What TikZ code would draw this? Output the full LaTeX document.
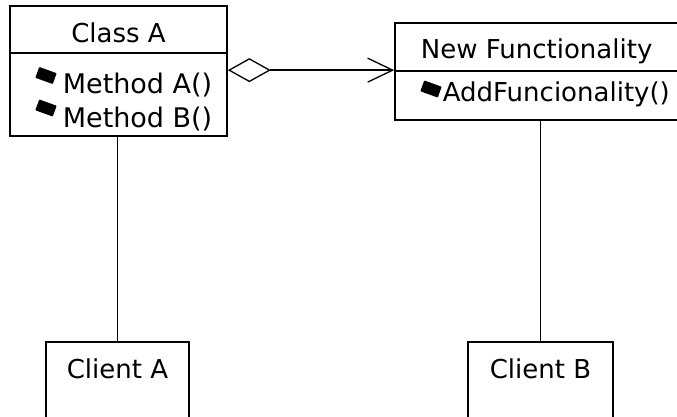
\documentclass[tikz,border=0pt]{standalone}
\usepackage{fontspec}
\setmainfont{DejaVu Sans}
\usetikzlibrary{arrows.meta}
\begin{document}
\begin{tikzpicture}[x=1pt,y=-1pt,line width=1.7pt,
  box/.style={draw,rectangle,inner sep=0pt},
  lbl/.style={inner sep=0pt,font=\fontsize{26}{30}\selectfont},
  mlbl/.style={inner sep=0pt,font=\fontsize{27}{31}\selectfont},
  mbullet/.pic={\filldraw[line width=1.5pt,line join=round]
      (6.3,7.6) -- (9.7,-1.8) -- (-6.3,-7.6) -- (-9.7,1.8) -- cycle;},
  aggr/.style={{Diamond[open,length=43pt,width=24pt]}-{Straight Barb[length=25pt,width=24pt]}}
]
\useasboundingbox (0,0) rectangle (677,417);
\fill[white] (0,0) rectangle (677,417);

% Class A: name and operations compartments
\node[box,minimum width=217pt,minimum height=47pt] (cahead) at (118.5,29.5) {};
\node[box,minimum width=217pt,minimum height=83pt] (cabody) at (118.5,94.5) {};
\node[lbl,anchor=base] (catitle) at (118.5,43) {Class A};
\pic at (46,75.5) {mbullet};
\node[mlbl,anchor=base west] (cam1) at (62,94) {Method A()};
\pic at (46,108) {mbullet};
\node[mlbl,anchor=base west] (cam2) at (62,128) {Method B()};

% New Functionality: name and operations compartments
\node[box,minimum width=295pt,minimum height=48pt] (nfhead) at (542.5,47) {};
\node[box,minimum width=295pt,minimum height=49pt] (nfbody) at (542.5,95.5) {};
\node[lbl,anchor=base west] (nftitle) at (420,59) {New Functionality};
\pic at (431,89) {mbullet};
\node[lbl,anchor=base west] (nfm1) at (442,102) {AddFuncionality()};

% Clients
\node[box,minimum width=143pt,minimum height=98pt] (cla) at (117.5,391) {};
\node[lbl,anchor=base] (clatext) at (117.5,378) {Client A};
\node[box,minimum width=145pt,minimum height=98pt] (clb) at (540.5,391) {};
\node[lbl,anchor=base] (clbtext) at (540.5,378) {Client B};

% Connectors
\draw[aggr,line width=1.3pt] (cabody.east |- nfbody.north west) -- (nfbody.north west);
\draw (cla.north) -- (cla.north |- cabody.south);
\draw (clb.north) -- (clb.north |- nfbody.south);
\end{tikzpicture}
\end{document}
